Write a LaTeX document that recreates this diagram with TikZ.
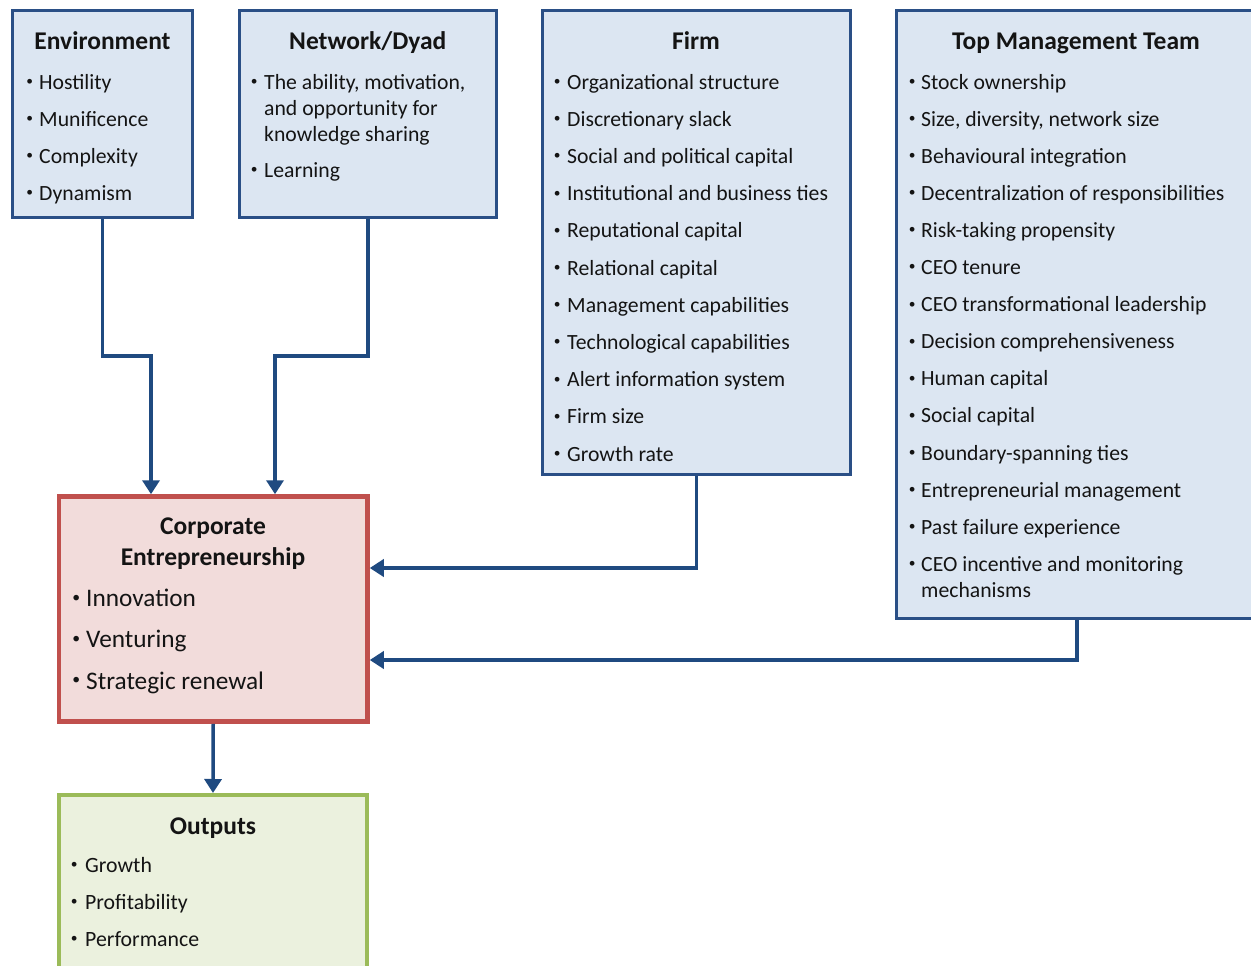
\documentclass[tikz,border=0pt]{standalone}
\usepackage{fontspec}
\setmainfont{Carlito}
\usetikzlibrary{arrows.meta}
\definecolor{bbord}{HTML}{2A4F86}
\definecolor{bfill}{HTML}{DCE6F2}
\definecolor{cbord}{HTML}{C0504D}
\definecolor{cfill}{HTML}{F2DCDB}
\definecolor{gbord}{HTML}{9BBB59}
\definecolor{gfill}{HTML}{EBF1DE}
\definecolor{arrc}{HTML}{1F4A80}
\definecolor{txtc}{HTML}{141414}
\newcommand\bu[1][19pt]{\llap{\makebox[#1][c]{\raisebox{0.165em}{\scalebox{0.62}{•}}}}}
\begin{document}
\begin{tikzpicture}[x=1pt,y=-1pt,
  box/.style={draw, inner sep=0pt},
  bbox/.style={box, draw=bbord, fill=bfill, line width=3pt},
  cbox/.style={box, draw=cbord, fill=cfill, line width=4.5pt},
  obox/.style={box, draw=gbord, fill=gfill, line width=4pt},
  ttl/.style={font=\fontsize{25.5}{30}\selectfont\bfseries, text=txtc, anchor=base, inner sep=0pt},
  itm/.style={font=\fontsize{21.7}{26}\selectfont, text=txtc, anchor=base west, inner sep=0pt},
  citm/.style={font=\fontsize{25.3}{28}\selectfont, text=txtc, anchor=base west, inner sep=0pt},
  oitm/.style={font=\fontsize{21.8}{26}\selectfont, text=txtc, anchor=base west, inner sep=0pt},
  arr/.style={draw=arrc, line width=3.5pt, -{Triangle[width=17pt,length=14pt]}}]
\useasboundingbox (0,0) rectangle (1251,966);

% boxes
\node[bbox, minimum width=180pt, minimum height=207pt] (env) at (102.5,114) {};
\node[bbox, minimum width=256.5pt, minimum height=207pt] (net) at (367.75,114) {};
\node[bbox, minimum width=307.5pt, minimum height=463.5pt] (firm) at (696.25,242.25) {};
\node[bbox, minimum width=361pt, minimum height=608pt] (tmt) at (1077,314.5) {};
\node[cbox, minimum width=308.5pt, minimum height=225pt] (ce) at (213.25,609) {};
\node[obox, minimum width=308pt, minimum height=205pt] (out) at (213,897.5) {};

% Environment
\node[ttl] (envT) at (102.5,50) {Environment};
\node[itm] (env1) at (39,89) {\bu Hostility};
\node[itm] (env2) at (39,126) {\bu Munificence};
\node[itm] (env3) at (39,163) {\bu Complexity};
\node[itm] (env4) at (39,200) {\bu Dynamism};

% Network/Dyad
\node[ttl] (netT) at (367.75,50) {Network/Dyad};
\node[itm] (net1a) at (264,89) {\bu[20pt]The ability, motivation,};
\node[itm] (net1b) at (264,115) {and opportunity for};
\node[itm] (net1c) at (264,141) {knowledge sharing};
\node[itm] (net2) at (264,177.5) {\bu[20pt]Learning};

% Firm
\node[ttl] (firmT) at (696,50) {Firm};
\foreach \t [count=\i] in {Organizational structure, Discretionary slack,
  Social and political capital, Institutional and business ties,
  Reputational capital, Relational capital, Management capabilities,
  Technological capabilities, Alert information system, Firm size, Growth rate}
  \node[itm] (firm\i) at (567,{89+37.2*(\i-1)}) {\bu[20pt]\t};

% Top Management Team
\node[ttl] (tmtT) at (1076,50) {Top Management Team};
\foreach \t [count=\i] in {Stock ownership, {Size, diversity, network size},
  Behavioural integration, Decentralization of responsibilities,
  Risk-taking propensity, CEO tenure, CEO transformational leadership,
  Decision comprehensiveness, Human capital, Social capital,
  Boundary-spanning ties, Entrepreneurial management,
  Past failure experience, CEO incentive and monitoring}
  \node[itm] (tmt\i) at (921,{89+37.1*(\i-1)}) {\bu[18pt]\t};
\node[itm] (tmt14b) at (921,597) {mechanisms};

% Corporate Entrepreneurship
\node[ttl] (ceT1) at (213,534) {Corporate};
\node[ttl] (ceT2) at (213,565) {Entrepreneurship};
\node[citm] (ce1) at (86,606.5) {\bu[20pt]Innovation};
\node[citm] (ce2) at (86,647.5) {\bu[20pt]Venturing};
\node[citm] (ce3) at (86,689) {\bu[20pt]Strategic renewal};

% Outputs
\node[ttl] (outT) at (213,834) {Outputs};
\node[oitm] (out1) at (85,872.5) {\bu[22pt]Growth};
\node[oitm] (out2) at (85,909.5) {\bu[22pt]Profitability};
\node[oitm] (out3) at (85,946.5) {\bu[22pt]Performance};

% connectors
\coordinate (jenv) at (151,356);
\coordinate (jnet) at (275,356);
\coordinate (jfirm) at (0,568);
\coordinate (jtmt) at (0,660);
\draw[arr] (env.south) |- (jenv) -- (jenv |- ce.north);
\draw[arr] (net.south) |- (jnet) -- (jnet |- ce.north);
\draw[arr] (firm.south) |- (ce.east |- jfirm);
\draw[arr] (tmt.south) |- (ce.east |- jtmt);
\draw[arr] (ce.south) -- (out.north);
\end{tikzpicture}
\end{document}
